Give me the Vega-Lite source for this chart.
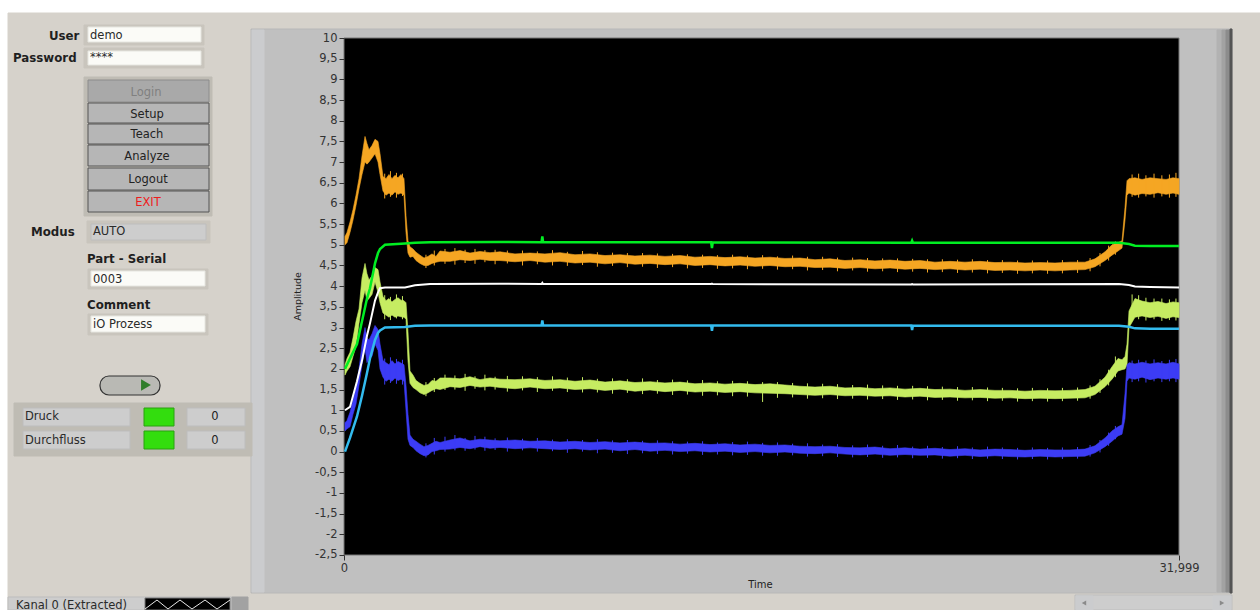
{"$schema":"https://vega.github.io/schema/vega-lite/v6.json","width":1260,"height":610,"padding":0,"autosize":{"type":"none"},"background":"#ffffff","config":{"view":{"stroke":null}},
"datasets":{
"ui":[
{"id":"window","kind":"panel","x0":8,"x1":1260,"y0":13,"y1":610},
{"id":"graphFrame","kind":"graph","x0":251,"x1":1232,"y0":29,"y1":593},
{"id":"graphLeft","kind":"graphLight","x0":252,"x1":264,"y0":30,"y1":592},
{"id":"graphShade1","kind":"shade1","x0":1217,"x1":1222,"y0":30,"y1":592},
{"id":"graphShade2","kind":"shade2","x0":1222,"x1":1226,"y0":30,"y1":592},
{"id":"graphShade3","kind":"shade4","x0":1226,"x1":1230,"y0":30,"y1":592},
{"id":"graphShade4","kind":"shade3","x0":1230,"x1":1232,"y0":29,"y1":593},
{"id":"plot","kind":"plot","x0":344,"x1":1179,"y0":38,"y1":555},
{"id":"userFrame","kind":"frame","x0":84,"x1":204,"y0":25,"y1":45},
{"id":"userField","kind":"field","x0":88,"x1":201,"y0":27,"y1":42},
{"id":"pwFrame","kind":"frame","x0":84,"x1":204,"y0":48,"y1":68},
{"id":"pwField","kind":"field","x0":88,"x1":201,"y0":51,"y1":65},
{"id":"btnFrame","kind":"frame2","x0":84,"x1":212,"y0":77,"y1":216},
{"id":"login","kind":"buttonOff","x0":88,"x1":209,"y0":80,"y1":102},
{"id":"setup","kind":"button","x0":88,"x1":209,"y0":103,"y1":123},
{"id":"teach","kind":"button","x0":88,"x1":209,"y0":124,"y1":144},
{"id":"analyze","kind":"button","x0":88,"x1":209,"y0":145,"y1":166},
{"id":"logout","kind":"button","x0":88,"x1":209,"y0":168,"y1":190},
{"id":"exit","kind":"button","x0":88,"x1":209,"y0":191,"y1":212},
{"id":"modusFrame","kind":"frame","x0":87,"x1":210,"y0":221,"y1":243},
{"id":"modusField","kind":"indicator","x0":91,"x1":206,"y0":224,"y1":240},
{"id":"serialFrame","kind":"frame","x0":88,"x1":208,"y0":269,"y1":289},
{"id":"serialField","kind":"field","x0":91,"x1":205,"y0":271,"y1":286},
{"id":"commentFrame","kind":"frame","x0":88,"x1":208,"y0":314,"y1":335},
{"id":"commentField","kind":"field","x0":91,"x1":205,"y0":316,"y1":332},
{"id":"clusterFrame","kind":"frame2","x0":14,"x1":252,"y0":403,"y1":456},
{"id":"druck","kind":"indicator","x0":23,"x1":130,"y0":408,"y1":426},
{"id":"durch","kind":"indicator","x0":23,"x1":130,"y0":431,"y1":449},
{"id":"led1","kind":"led","x0":144,"x1":174,"y0":408,"y1":426},
{"id":"led2","kind":"led","x0":144,"x1":174,"y0":431,"y1":449},
{"id":"val1","kind":"indicator","x0":187,"x1":245,"y0":408,"y1":426},
{"id":"val2","kind":"indicator","x0":187,"x1":245,"y0":431,"y1":449},
{"id":"kanalBack","kind":"indicator","x0":8,"x1":232,"y0":597,"y1":610},
{"id":"kanalPlot","kind":"plot","x0":145,"x1":230,"y0":598,"y1":610},
{"id":"kanalEnd","kind":"shade2","x0":232,"x1":248,"y0":597,"y1":610},
{"id":"scroll","kind":"indicator","x0":1075,"x1":1232,"y0":595,"y1":610},
{"id":"scrollL","kind":"graphLight","x0":1076,"x1":1093,"y0":596,"y1":610},
{"id":"scrollR","kind":"graphLight","x0":1213,"x1":1231,"y0":596,"y1":610}
],
"bold":[
{"x":49,"y":36,"label":"User"},{"x":13,"y":58,"label":"Password"},{"x":31,"y":232,"label":"Modus"},{"x":87,"y":259,"label":"Part - Serial"},{"x":87,"y":305,"label":"Comment"}
],
"plain":[
{"x":90,"y":36,"label":"demo"},{"x":90,"y":58,"label":"****"},{"x":93,"y":232,"label":"AUTO"},{"x":93,"y":280,"label":"0003"},{"x":93,"y":325,"label":"iO Prozess"},{"x":25,"y":417,"label":"Druck"},{"x":25,"y":441,"label":"Durchfluss"},{"x":16,"y":606,"label":"Kanal 0 (Extracted)"}
],
"center":[
{"x":146,"y":93,"label":"Login","tone":"dim"},{"x":147,"y":115,"label":"Setup","tone":"normal"},{"x":147,"y":135,"label":"Teach","tone":"normal"},{"x":147,"y":157,"label":"Analyze","tone":"normal"},{"x":148,"y":180,"label":"Logout","tone":"normal"},{"x":148,"y":203,"label":"EXIT","tone":"alert"},{"x":215,"y":417,"label":"0","tone":"normal"},{"x":215,"y":441,"label":"0","tone":"normal"}
],
"wave":[
{"x":145,"y":609},{"x":157,"y":600},{"x":168,"y":609},{"x":180,"y":600},{"x":192,"y":609},{"x":205,"y":600},{"x":217,"y":609},{"x":230,"y":600}
],
"noisy":[
{"t":38,"o0":5.0,"o1":5.2,"y0":1.85,"y1":2.1,"b0":0.5,"b1":0.7},
{"t":115,"o0":5.05,"o1":5.3,"y0":1.95,"y1":2.25,"b0":0.55,"b1":0.75},
{"t":230,"o0":5.3,"o1":5.55,"y0":2.05,"y1":2.4,"b0":0.6,"b1":0.95},
{"t":345,"o0":5.6,"o1":5.85,"y0":2.3,"y1":2.75,"b0":0.9,"b1":1.25},
{"t":460,"o0":5.95,"o1":6.2,"y0":2.55,"y1":3.15,"b0":1.15,"b1":1.55},
{"t":575,"o0":6.35,"o1":6.6,"y0":3.1,"y1":3.45,"b0":1.6,"b1":2.0},
{"t":690,"o0":6.7,"o1":7.15,"y0":3.6,"y1":4.2,"b0":2.1,"b1":2.6},
{"t":805,"o0":7.0,"o1":7.62,"y0":3.9,"y1":4.55,"b0":2.5,"b1":3.0},
{"t":881,"o0":6.95,"o1":7.45,"y0":3.65,"y1":4.3,"b0":2.15,"b1":2.75},
{"t":958,"o0":7.0,"o1":7.3,"y0":3.7,"y1":4.15,"b0":2.25,"b1":2.7},
{"t":1073,"o0":7.1,"o1":7.4,"y0":3.8,"y1":4.25,"b0":2.3,"b1":2.85},
{"t":1188,"o0":7.2,"o1":7.55,"y0":4.1,"y1":4.45,"b0":2.6,"b1":3.05},
{"t":1303,"o0":7.0,"o1":7.5,"y0":3.85,"y1":4.4,"b0":2.45,"b1":2.95},
{"t":1380,"o0":6.7,"o1":7.2,"y0":3.6,"y1":4.1,"b0":2.0,"b1":2.6},
{"t":1494,"o0":6.3,"o1":6.65,"y0":3.35,"y1":3.75,"b0":1.8,"b1":2.2},
{"t":1609,"o0":6.2,"o1":6.6,"y0":3.3,"y1":3.65,"b0":1.7,"b1":2.15},
{"t":1724,"o0":6.25,"o1":6.7,"y0":3.25,"y1":3.7,"b0":1.75,"b1":2.1},
{"t":1839,"o0":6.2,"o1":6.6,"y0":3.3,"y1":3.62,"b0":1.7,"b1":2.2},
{"t":1954,"o0":6.28,"o1":6.68,"y0":3.25,"y1":3.68,"b0":1.78,"b1":2.12},
{"t":2069,"o0":6.22,"o1":6.62,"y0":3.28,"y1":3.72,"b0":1.72,"b1":2.18},
{"t":2184,"o0":6.25,"o1":6.7,"y0":3.26,"y1":3.66,"b0":1.75,"b1":2.14},
{"t":2299,"o0":6.2,"o1":6.6,"y0":3.25,"y1":3.65,"b0":1.7,"b1":2.1},
{"t":2376,"o0":5.3,"o1":5.7,"y0":3.2,"y1":3.6,"b0":1.0,"b1":1.6},
{"t":2452,"o0":4.8,"o1":5.1,"y0":2.2,"y1":2.9,"b0":0.3,"b1":0.9},
{"t":2529,"o0":4.7,"o1":4.95,"y0":1.65,"y1":1.95,"b0":0.15,"b1":0.4},
{"t":2644,"o0":4.72,"o1":4.9,"y0":1.55,"y1":1.85,"b0":0.1,"b1":0.3},
{"t":2759,"o0":4.62,"o1":4.82,"y0":1.5,"y1":1.72,"b0":0.02,"b1":0.25},
{"t":2912,"o0":4.55,"o1":4.75,"y0":1.42,"y1":1.65,"b0":-0.05,"b1":0.18},
{"t":3066,"o0":4.5,"o1":4.68,"y0":1.38,"y1":1.6,"b0":-0.1,"b1":0.12},
{"t":3219,"o0":4.5,"o1":4.72,"y0":1.42,"y1":1.62,"b0":-0.08,"b1":0.15},
{"t":3372,"o0":4.55,"o1":4.78,"y0":1.48,"y1":1.72,"b0":0.0,"b1":0.2},
{"t":3525,"o0":4.58,"o1":4.72,"y0":1.52,"y1":1.7,"b0":0.02,"b1":0.25},
{"t":3679,"o0":4.6,"o1":4.85,"y0":1.5,"y1":1.78,"b0":0.05,"b1":0.22},
{"t":4062,"o0":4.6,"o1":4.82,"y0":1.57,"y1":1.78,"b0":0.06,"b1":0.28},
{"t":4445,"o0":4.64,"o1":4.86,"y0":1.55,"y1":1.76,"b0":0.1,"b1":0.33},
{"t":4828,"o0":4.62,"o1":4.8,"y0":1.6,"y1":1.81,"b0":0.07,"b1":0.26},
{"t":5212,"o0":4.65,"o1":4.84,"y0":1.56,"y1":1.74,"b0":0.12,"b1":0.3},
{"t":5595,"o0":4.62,"o1":4.81,"y0":1.58,"y1":1.78,"b0":0.08,"b1":0.28},
{"t":5978,"o0":4.62,"o1":4.83,"y0":1.55,"y1":1.75,"b0":0.1,"b1":0.26},
{"t":6553,"o0":4.59,"o1":4.78,"y0":1.52,"y1":1.74,"b0":0.07,"b1":0.28},
{"t":7128,"o0":4.62,"o1":4.8,"y0":1.56,"y1":1.76,"b0":0.09,"b1":0.25},
{"t":7702,"o0":4.58,"o1":4.78,"y0":1.52,"y1":1.72,"b0":0.07,"b1":0.26},
{"t":8277,"o0":4.6,"o1":4.81,"y0":1.54,"y1":1.74,"b0":0.05,"b1":0.23},
{"t":8852,"o0":4.56,"o1":4.76,"y0":1.5,"y1":1.7,"b0":0.07,"b1":0.25},
{"t":9427,"o0":4.58,"o1":4.78,"y0":1.52,"y1":1.73,"b0":0.04,"b1":0.22},
{"t":10002,"o0":4.54,"o1":4.74,"y0":1.48,"y1":1.68,"b0":0.06,"b1":0.24},
{"t":10576,"o0":4.57,"o1":4.76,"y0":1.51,"y1":1.71,"b0":0.02,"b1":0.21},
{"t":11151,"o0":4.53,"o1":4.73,"y0":1.46,"y1":1.67,"b0":0.05,"b1":0.23},
{"t":11726,"o0":4.55,"o1":4.75,"y0":1.49,"y1":1.69,"b0":0.01,"b1":0.2},
{"t":12301,"o0":4.52,"o1":4.72,"y0":1.45,"y1":1.66,"b0":0.03,"b1":0.21},
{"t":12876,"o0":4.54,"o1":4.74,"y0":1.48,"y1":1.68,"b0":0.0,"b1":0.18},
{"t":13450,"o0":4.5,"o1":4.7,"y0":1.44,"y1":1.64,"b0":0.02,"b1":0.2},
{"t":14025,"o0":4.52,"o1":4.72,"y0":1.46,"y1":1.66,"b0":-0.01,"b1":0.17},
{"t":14600,"o0":4.49,"o1":4.69,"y0":1.43,"y1":1.63,"b0":0.01,"b1":0.19},
{"t":15175,"o0":4.51,"o1":4.71,"y0":1.45,"y1":1.65,"b0":-0.02,"b1":0.16},
{"t":15750,"o0":4.48,"o1":4.68,"y0":1.42,"y1":1.62,"b0":0.0,"b1":0.18},
{"t":16324,"o0":4.5,"o1":4.7,"y0":1.41,"y1":1.64,"b0":-0.03,"b1":0.15},
{"t":16899,"o0":4.47,"o1":4.67,"y0":1.4,"y1":1.61,"b0":-0.01,"b1":0.16},
{"t":17474,"o0":4.48,"o1":4.68,"y0":1.38,"y1":1.58,"b0":-0.04,"b1":0.13},
{"t":18049,"o0":4.45,"o1":4.64,"y0":1.36,"y1":1.56,"b0":-0.05,"b1":0.12},
{"t":18624,"o0":4.46,"o1":4.66,"y0":1.38,"y1":1.58,"b0":-0.03,"b1":0.13},
{"t":19198,"o0":4.43,"o1":4.62,"y0":1.35,"y1":1.54,"b0":-0.06,"b1":0.1},
{"t":19773,"o0":4.45,"o1":4.64,"y0":1.36,"y1":1.55,"b0":-0.08,"b1":0.09},
{"t":20348,"o0":4.42,"o1":4.61,"y0":1.34,"y1":1.52,"b0":-0.06,"b1":0.11},
{"t":20923,"o0":4.44,"o1":4.63,"y0":1.35,"y1":1.54,"b0":-0.09,"b1":0.07},
{"t":21498,"o0":4.41,"o1":4.6,"y0":1.32,"y1":1.51,"b0":-0.07,"b1":0.09},
{"t":22072,"o0":4.43,"o1":4.62,"y0":1.34,"y1":1.53,"b0":-0.09,"b1":0.06},
{"t":22647,"o0":4.4,"o1":4.58,"y0":1.31,"y1":1.5,"b0":-0.08,"b1":0.08},
{"t":23222,"o0":4.42,"o1":4.6,"y0":1.32,"y1":1.51,"b0":-0.11,"b1":0.05},
{"t":23797,"o0":4.39,"o1":4.58,"y0":1.3,"y1":1.48,"b0":-0.09,"b1":0.07},
{"t":24372,"o0":4.41,"o1":4.6,"y0":1.31,"y1":1.5,"b0":-0.12,"b1":0.04},
{"t":24946,"o0":4.38,"o1":4.57,"y0":1.29,"y1":1.48,"b0":-0.1,"b1":0.06},
{"t":25521,"o0":4.39,"o1":4.58,"y0":1.3,"y1":1.48,"b0":-0.12,"b1":0.05},
{"t":26096,"o0":4.37,"o1":4.56,"y0":1.28,"y1":1.46,"b0":-0.13,"b1":0.03},
{"t":26671,"o0":4.39,"o1":4.57,"y0":1.29,"y1":1.48,"b0":-0.11,"b1":0.05},
{"t":27246,"o0":4.37,"o1":4.56,"y0":1.28,"y1":1.47,"b0":-0.13,"b1":0.04},
{"t":27820,"o0":4.39,"o1":4.58,"y0":1.29,"y1":1.48,"b0":-0.12,"b1":0.04},
{"t":28395,"o0":4.4,"o1":4.58,"y0":1.3,"y1":1.5,"b0":-0.11,"b1":0.06},
{"t":28778,"o0":4.47,"o1":4.66,"y0":1.38,"y1":1.58,"b0":-0.03,"b1":0.14},
{"t":29162,"o0":4.62,"o1":4.83,"y0":1.57,"y1":1.8,"b0":0.12,"b1":0.33},
{"t":29430,"o0":4.75,"o1":5.0,"y0":1.75,"y1":2.05,"b0":0.25,"b1":0.5},
{"t":29660,"o0":4.85,"o1":5.05,"y0":1.95,"y1":2.25,"b0":0.38,"b1":0.6},
{"t":29813,"o0":4.92,"o1":5.1,"y0":1.98,"y1":2.22,"b0":0.42,"b1":0.65},
{"t":29928,"o0":5.6,"o1":5.9,"y0":2.0,"y1":2.3,"b0":0.8,"b1":1.4},
{"t":30005,"o0":6.2,"o1":6.55,"y0":2.1,"y1":2.6,"b0":1.7,"b1":2.1},
{"t":30081,"o0":6.25,"o1":6.6,"y0":3.0,"y1":3.4,"b0":1.78,"b1":2.15},
{"t":30311,"o0":6.2,"o1":6.62,"y0":3.25,"y1":3.7,"b0":1.75,"b1":2.12},
{"t":30580,"o0":6.24,"o1":6.58,"y0":3.28,"y1":3.64,"b0":1.8,"b1":2.16},
{"t":30886,"o0":6.22,"o1":6.62,"y0":3.24,"y1":3.6,"b0":1.74,"b1":2.12},
{"t":31192,"o0":6.26,"o1":6.6,"y0":3.27,"y1":3.63,"b0":1.78,"b1":2.15},
{"t":31499,"o0":6.22,"o1":6.58,"y0":3.22,"y1":3.58,"b0":1.75,"b1":2.12},
{"t":31767,"o0":6.25,"o1":6.62,"y0":3.26,"y1":3.62,"b0":1.78,"b1":2.16},
{"t":31999,"o0":6.22,"o1":6.6,"y0":3.24,"y1":3.6,"b0":1.75,"b1":2.12}
],
"spikes":[
{"t":1560,"o0":6.12,"o1":6.72,"y0":3.2,"y1":3.78,"b0":1.62,"b1":2.25},
{"t":1780,"o0":6.16,"o1":6.78,"y0":3.18,"y1":3.74,"b0":1.66,"b1":2.28},
{"t":2010,"o0":6.14,"o1":6.74,"y0":3.22,"y1":3.8,"b0":1.64,"b1":2.24},
{"t":2240,"o0":6.18,"o1":6.72,"y0":3.2,"y1":3.76,"b0":1.62,"b1":2.22},
{"t":3140,"o0":4.44,"o1":4.76,"y0":1.34,"y1":1.68,"b0":-0.14,"b1":0.2},
{"t":3460,"o0":4.5,"o1":4.86,"y0":1.44,"y1":1.78,"b0":-0.07,"b1":0.33},
{"t":3870,"o0":4.54,"o1":4.9,"y0":1.49,"y1":1.86,"b0":0.0,"b1":0.36},
{"t":4250,"o0":4.52,"o1":4.92,"y0":1.5,"y1":1.84,"b0":0.03,"b1":0.4},
{"t":4640,"o0":4.56,"o1":4.88,"y0":1.47,"y1":1.88,"b0":0.02,"b1":0.33},
{"t":5020,"o0":4.54,"o1":4.9,"y0":1.52,"y1":1.82,"b0":0.05,"b1":0.38},
{"t":5400,"o0":4.58,"o1":4.87,"y0":1.48,"y1":1.86,"b0":0.02,"b1":0.36},
{"t":5790,"o0":4.53,"o1":4.88,"y0":1.5,"y1":1.81,"b0":0.04,"b1":0.32},
{"t":6260,"o0":4.55,"o1":4.86,"y0":1.45,"y1":1.83,"b0":0.0,"b1":0.34},
{"t":6840,"o0":4.5,"o1":4.86,"y0":1.48,"y1":1.82,"b0":0.03,"b1":0.31},
{"t":7410,"o0":4.53,"o1":4.84,"y0":1.44,"y1":1.8,"b0":0.0,"b1":0.33},
{"t":7990,"o0":4.5,"o1":4.87,"y0":1.47,"y1":1.82,"b0":0.01,"b1":0.29},
{"t":8560,"o0":4.49,"o1":4.83,"y0":1.44,"y1":1.79,"b0":-0.03,"b1":0.3},
{"t":9140,"o0":4.51,"o1":4.85,"y0":1.43,"y1":1.8,"b0":0.0,"b1":0.28},
{"t":9710,"o0":4.47,"o1":4.82,"y0":1.43,"y1":1.76,"b0":-0.04,"b1":0.3},
{"t":10290,"o0":4.49,"o1":4.81,"y0":1.4,"y1":1.77,"b0":-0.03,"b1":0.27},
{"t":10860,"o0":4.46,"o1":4.8,"y0":1.42,"y1":1.75,"b0":-0.06,"b1":0.28},
{"t":11440,"o0":4.47,"o1":4.8,"y0":1.39,"y1":1.77,"b0":-0.04,"b1":0.26},
{"t":12010,"o0":4.44,"o1":4.79,"y0":1.4,"y1":1.73,"b0":-0.06,"b1":0.27},
{"t":12590,"o0":4.46,"o1":4.78,"y0":1.37,"y1":1.74,"b0":-0.07,"b1":0.25},
{"t":13160,"o0":4.43,"o1":4.77,"y0":1.38,"y1":1.72,"b0":-0.05,"b1":0.24},
{"t":13740,"o0":4.44,"o1":4.76,"y0":1.35,"y1":1.73,"b0":-0.08,"b1":0.25},
{"t":14310,"o0":4.42,"o1":4.75,"y0":1.36,"y1":1.7,"b0":-0.07,"b1":0.22},
{"t":14890,"o0":4.43,"o1":4.76,"y0":1.34,"y1":1.71,"b0":-0.09,"b1":0.23},
{"t":15460,"o0":4.41,"o1":4.74,"y0":1.33,"y1":1.7,"b0":-0.08,"b1":0.24},
{"t":16040,"o0":4.42,"o1":4.75,"y0":1.2,"y1":1.68,"b0":-0.1,"b1":0.21},
{"t":16610,"o0":4.4,"o1":4.72,"y0":1.3,"y1":1.68,"b0":-0.1,"b1":0.22},
{"t":17190,"o0":4.41,"o1":4.74,"y0":1.31,"y1":1.66,"b0":-0.09,"b1":0.19},
{"t":17760,"o0":4.38,"o1":4.71,"y0":1.28,"y1":1.65,"b0":-0.12,"b1":0.2},
{"t":18340,"o0":4.39,"o1":4.71,"y0":1.29,"y1":1.64,"b0":-0.11,"b1":0.17},
{"t":18910,"o0":4.36,"o1":4.69,"y0":1.27,"y1":1.63,"b0":-0.13,"b1":0.18},
{"t":19490,"o0":4.38,"o1":4.69,"y0":1.28,"y1":1.61,"b0":-0.14,"b1":0.15},
{"t":20060,"o0":4.35,"o1":4.68,"y0":1.26,"y1":1.62,"b0":-0.13,"b1":0.17},
{"t":20640,"o0":4.36,"o1":4.67,"y0":1.27,"y1":1.6,"b0":-0.15,"b1":0.14},
{"t":21210,"o0":4.34,"o1":4.67,"y0":1.25,"y1":1.59,"b0":-0.14,"b1":0.16},
{"t":21790,"o0":4.35,"o1":4.66,"y0":1.26,"y1":1.59,"b0":-0.16,"b1":0.12},
{"t":22360,"o0":4.33,"o1":4.65,"y0":1.24,"y1":1.58,"b0":-0.15,"b1":0.14},
{"t":22930,"o0":4.34,"o1":4.65,"y0":1.25,"y1":1.57,"b0":-0.17,"b1":0.11},
{"t":23510,"o0":4.32,"o1":4.64,"y0":1.23,"y1":1.56,"b0":-0.16,"b1":0.13},
{"t":24080,"o0":4.33,"o1":4.65,"y0":1.24,"y1":1.56,"b0":-0.18,"b1":0.1},
{"t":24660,"o0":4.31,"o1":4.63,"y0":1.22,"y1":1.55,"b0":-0.17,"b1":0.12},
{"t":25230,"o0":4.32,"o1":4.63,"y0":1.23,"y1":1.54,"b0":-0.18,"b1":0.1},
{"t":25810,"o0":4.3,"o1":4.62,"y0":1.21,"y1":1.53,"b0":-0.19,"b1":0.09},
{"t":26380,"o0":4.31,"o1":4.62,"y0":1.22,"y1":1.54,"b0":-0.18,"b1":0.1},
{"t":26960,"o0":4.3,"o1":4.62,"y0":1.21,"y1":1.53,"b0":-0.19,"b1":0.09},
{"t":27530,"o0":4.31,"o1":4.63,"y0":1.22,"y1":1.54,"b0":-0.18,"b1":0.1},
{"t":28110,"o0":4.32,"o1":4.63,"y0":1.23,"y1":1.55,"b0":-0.17,"b1":0.11},
{"t":28590,"o0":4.36,"o1":4.68,"y0":1.28,"y1":1.6,"b0":-0.12,"b1":0.16},
{"t":28970,"o0":4.48,"o1":4.8,"y0":1.42,"y1":1.75,"b0":-0.02,"b1":0.28},
{"t":29300,"o0":4.62,"o1":4.98,"y0":1.6,"y1":1.98,"b0":0.14,"b1":0.46},
{"t":29560,"o0":4.76,"o1":5.08,"y0":1.8,"y1":2.3,"b0":0.3,"b1":0.62},
{"t":30200,"o0":6.16,"o1":6.7,"y0":3.18,"y1":3.8,"b0":1.68,"b1":2.2},
{"t":30450,"o0":6.14,"o1":6.72,"y0":3.2,"y1":3.78,"b0":1.7,"b1":2.22},
{"t":30730,"o0":6.17,"o1":6.68,"y0":3.17,"y1":3.72,"b0":1.67,"b1":2.2},
{"t":31040,"o0":6.14,"o1":6.72,"y0":3.2,"y1":3.7,"b0":1.7,"b1":2.23},
{"t":31340,"o0":6.17,"o1":6.68,"y0":3.16,"y1":3.7,"b0":1.68,"b1":2.19},
{"t":31630,"o0":6.14,"o1":6.7,"y0":3.18,"y1":3.68,"b0":1.7,"b1":2.22},
{"t":31880,"o0":6.16,"o1":6.74,"y0":3.17,"y1":3.7,"b0":1.68,"b1":2.24}
],
"clean":[
{"t":38,"g":2.0,"w":1.0,"c":0.0},{"t":230,"g":2.25,"w":1.08,"c":0.33},{"t":498,"g":2.6,"w":1.7,"c":0.85},{"t":690,"g":3.15,"w":2.2,"c":1.35},{"t":881,"g":3.7,"w":2.8,"c":1.9},{"t":996,"g":3.95,"w":3.1,"c":2.25},{"t":1188,"g":4.55,"w":3.65,"c":2.7},{"t":1303,"g":4.8,"w":3.85,"c":2.87},{"t":1380,"g":4.9,"w":3.95,"c":2.93},{"t":1570,"g":5.0,"w":3.97,"c":3.0},{"t":2337,"g":5.03,"w":3.97,"c":3.01},{"t":2720,"g":5.05,"w":4.02,"c":3.04},{"t":3300,"g":5.06,"w":4.05,"c":3.05},{"t":5978,"g":5.07,"w":4.06,"c":3.05},{"t":7570,"g":5.06,"w":4.05,"c":3.05},{"t":7600,"g":5.2,"w":4.08,"c":3.17},{"t":7630,"g":5.06,"w":4.05,"c":3.05},{"t":14070,"g":5.06,"w":4.05,"c":3.05},{"t":14100,"g":4.92,"w":4.06,"c":2.92},{"t":14130,"g":5.06,"w":4.05,"c":3.05},{"t":21740,"g":5.05,"w":4.04,"c":3.05},{"t":21770,"g":5.1,"w":4.05,"c":2.94},{"t":21800,"g":5.05,"w":4.04,"c":3.05},{"t":29700,"g":5.05,"w":4.05,"c":3.04},{"t":30081,"g":5.02,"w":4.03,"c":3.02},{"t":30311,"g":4.98,"w":3.99,"c":2.98},{"t":30886,"g":4.97,"w":3.98,"c":2.97},{"t":31999,"g":4.97,"w":3.97,"c":2.97}
]
},
"layer":[
{"encoding":{"x":{"type":"quantitative","scale":{"domain":[0,1260],"nice":false,"zero":false},"axis":null},"y":{"type":"quantitative","scale":{"domain":[610,0],"nice":false,"zero":false},"axis":null}},
"layer":[
{"data":{"name":"ui"},"mark":{"type":"rect","strokeWidth":1},"encoding":{"x":{"field":"x0","type":"quantitative"},"x2":{"field":"x1"},"y":{"field":"y0","type":"quantitative"},"y2":{"field":"y1"},
"fill":{"field":"kind","type":"nominal","legend":null,"scale":{"domain":["panel","graph","graphLight","shade1","shade2","shade3","shade4","plot","frame","frame2","field","indicator","button","buttonOff","led"],"range":["#d6d2cb","#c0c0c0","#cbccce","#b2b2b2","#a2a2a2","#555555","#8c8c8c","#000000","#c9c5bd","#bfbcb4","#fbfbf7","#cdcdcd","#b6b6b6","#a9a9a9","#33dd0e"]}},
"stroke":{"field":"kind","type":"nominal","legend":null,"scale":{"domain":["panel","graph","graphLight","shade1","shade2","shade3","shade4","plot","frame","frame2","field","indicator","button","buttonOff","led"],"range":["#d6d2cb","#b8b8b8","#cbccce","#b2b2b2","#a2a2a2","#555555","#8c8c8c","#777777","#c9c5bd","#bfbcb4","#e6e6e0","#bdbdbd","#555555","#8c8c8c","#2aa010"]}}}},
{"data":{"values":[{"x0":100,"x1":160,"y0":376,"y1":395}]},"mark":{"type":"rect","cornerRadius":9,"fill":"#b9b9b4","stroke":"#333333","strokeWidth":1.2},"encoding":{"x":{"field":"x0","type":"quantitative"},"x2":{"field":"x1"},"y":{"field":"y0","type":"quantitative"},"y2":{"field":"y1"}}},
{"data":{"values":[{"x":146,"y":385,"part":"play"}]},"mark":{"type":"point","shape":"triangle-right","filled":true,"size":130,"color":"#2f7d2a","opacity":1},"encoding":{"x":{"field":"x","type":"quantitative"},"y":{"field":"y","type":"quantitative"}}},
{"data":{"values":[{"x":1084,"y":603,"part":"left"}]},"mark":{"type":"point","shape":"triangle-left","filled":true,"size":26,"color":"#8a8a8a","opacity":1},"encoding":{"x":{"field":"x","type":"quantitative"},"y":{"field":"y","type":"quantitative"}}},
{"data":{"values":[{"x":1222,"y":603,"part":"right"}]},"mark":{"type":"point","shape":"triangle-right","filled":true,"size":26,"color":"#8a8a8a","opacity":1},"encoding":{"x":{"field":"x","type":"quantitative"},"y":{"field":"y","type":"quantitative"}}},
{"data":{"name":"wave"},"mark":{"type":"line","color":"#e8e8e8","strokeWidth":1},"encoding":{"x":{"field":"x","type":"quantitative"},"y":{"field":"y","type":"quantitative"}}},
{"data":{"name":"bold"},"mark":{"type":"text","align":"left","baseline":"middle","font":"DejaVu Sans","fontWeight":"bold","fontSize":11.8,"color":"#1f1f1f"},"encoding":{"x":{"field":"x","type":"quantitative"},"y":{"field":"y","type":"quantitative"},"text":{"field":"label"}}},
{"data":{"name":"plain"},"mark":{"type":"text","align":"left","baseline":"middle","font":"DejaVu Sans","fontSize":11.5,"color":"#2a2a2a"},"encoding":{"x":{"field":"x","type":"quantitative"},"y":{"field":"y","type":"quantitative"},"text":{"field":"label"}}},
{"data":{"name":"center"},"mark":{"type":"text","align":"center","baseline":"middle","font":"DejaVu Sans","fontSize":11.5},"encoding":{"x":{"field":"x","type":"quantitative"},"y":{"field":"y","type":"quantitative"},"text":{"field":"label"},"color":{"field":"tone","type":"nominal","legend":null,"scale":{"domain":["normal","dim","alert"],"range":["#222222","#808080","#ee1c1c"]}}}}
]},
{"encoding":{
"x":{"type":"quantitative","scale":{"domain":[-13182,35101],"nice":false,"zero":false},"axis":{"values":[0,31999],"offset":-55,"orient":"bottom","domain":false,"grid":false,"zindex":1,"tickSize":5,"tickColor":"#333333","labelColor":"#333333","labelFont":"DejaVu Sans","labelFontSize":11.5,"labelPadding":2,"labelFlush":false,"labelOverlap":false,"labelExpr":"datum.value>0?'31,999':'0'","title":"Time","titleFont":"DejaVu Sans","titleFontSize":10,"titleFontWeight":"normal","titleColor":"#222222","titleX":760,"titleY":29,"titleBaseline":"middle"}},
"y":{"type":"quantitative","scale":{"domain":[-3.83,10.919],"nice":false,"zero":false},"axis":{"values":[-2.5,-2,-1.5,-1,-0.5,0,0.5,1,1.5,2,2.5,3,3.5,4,4.5,5,5.5,6,6.5,7,7.5,8,8.5,9,9.5,10],"offset":-344,"orient":"left","domain":false,"grid":false,"zindex":1,"tickSize":5,"tickColor":"#333333","labelColor":"#333333","labelFont":"DejaVu Sans","labelFontSize":11.5,"labelPadding":2,"labelOverlap":false,"labelFlush":false,"labelExpr":"replace(replace(format(datum.value,'.1~f'),'.',','),'−','-')","title":"Amplitude","titleFont":"DejaVu Sans","titleFontSize":9.5,"titleFontWeight":"normal","titleColor":"#222222","titleX":-47,"titleY":296,"titleAngle":-90,"titleBaseline":"middle"}}},
"layer":[
{"data":{"name":"noisy"},"mark":{"type":"area","color":"#f5a623","stroke":"#f5a623","strokeWidth":0.6},"encoding":{"x":{"field":"t","type":"quantitative"},"y":{"field":"o0","type":"quantitative"},"y2":{"field":"o1"}}},
{"data":{"name":"spikes"},"mark":{"type":"rule","color":"#f5a623","strokeWidth":1},"encoding":{"x":{"field":"t","type":"quantitative"},"y":{"field":"o0","type":"quantitative"},"y2":{"field":"o1"}}},
{"data":{"name":"noisy"},"mark":{"type":"area","color":"#c6ec62","stroke":"#c6ec62","strokeWidth":0.6},"encoding":{"x":{"field":"t","type":"quantitative"},"y":{"field":"y0","type":"quantitative"},"y2":{"field":"y1"}}},
{"data":{"name":"spikes"},"mark":{"type":"rule","color":"#c6ec62","strokeWidth":1},"encoding":{"x":{"field":"t","type":"quantitative"},"y":{"field":"y0","type":"quantitative"},"y2":{"field":"y1"}}},
{"data":{"name":"noisy"},"mark":{"type":"area","color":"#3c3cf5","stroke":"#3c3cf5","strokeWidth":0.6},"encoding":{"x":{"field":"t","type":"quantitative"},"y":{"field":"b0","type":"quantitative"},"y2":{"field":"b1"}}},
{"data":{"name":"spikes"},"mark":{"type":"rule","color":"#3c3cf5","strokeWidth":1},"encoding":{"x":{"field":"t","type":"quantitative"},"y":{"field":"b0","type":"quantitative"},"y2":{"field":"b1"}}},
{"data":{"name":"clean"},"mark":{"type":"line","color":"#ffffff","strokeWidth":2},"encoding":{"x":{"field":"t","type":"quantitative"},"y":{"field":"w","type":"quantitative"}}},
{"data":{"name":"clean"},"mark":{"type":"line","color":"#00ee22","strokeWidth":2.5},"encoding":{"x":{"field":"t","type":"quantitative"},"y":{"field":"g","type":"quantitative"}}},
{"data":{"name":"clean"},"mark":{"type":"line","color":"#33bbee","strokeWidth":2.5},"encoding":{"x":{"field":"t","type":"quantitative"},"y":{"field":"c","type":"quantitative"}}}
]}
],
"resolve":{"scale":{"x":"independent","y":"independent"}}
}
